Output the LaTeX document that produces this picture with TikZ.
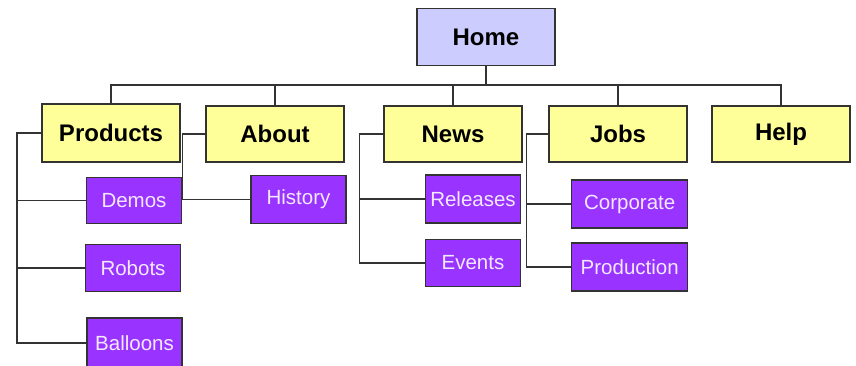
\documentclass[tikz,border=0pt]{standalone}
\usepackage{fontspec}
\setmainfont{Liberation Sans}
\usetikzlibrary{backgrounds}
\definecolor{homefill}{HTML}{CCCCFF}
\definecolor{topfill}{HTML}{FFFF99}
\definecolor{subfill}{HTML}{9933FF}
\definecolor{subtext}{HTML}{F4E8FF}
\definecolor{edge}{HTML}{333333}
\begin{document}
\begin{tikzpicture}[x=1pt,y=-1pt,
  box/.style={rectangle,draw=edge,line width=1.3pt,inner sep=0pt},
  topbox/.style={box,fill=topfill,minimum width=138pt,minimum height=56pt,
    font=\fontsize{24}{28}\selectfont\bfseries},
  homebox/.style={topbox,fill=homefill,minimum height=57pt},
  subbox/.style={box,fill=subfill,text=subtext,minimum width=95pt,minimum height=47pt,
    font=\fontsize{20.5}{24}\selectfont},
  widesub/.style={subbox,minimum width=116pt},
  link/.style={draw=edge,line width=1.3pt}]
\useasboundingbox (0,0) rectangle (856,365);
\path
  (486,37) node[homebox] (home) {Home}
  (111,133) node[topbox,minimum height=58pt] (products) {Products}
  (275,134) node[topbox] (about) {About}
  (453,134) node[topbox] (news) {News}
  (618,134) node[topbox] (jobs) {Jobs}
  (781,134) node[topbox] (help) {Help}
  (134,200.5) node[subbox,minimum height=46pt] (demos) {Demos}
  (133,268) node[subbox] (robots) {Robots}
  (134.5,343) node[subbox,minimum height=50pt] (balloons) {Balloons}
  (298.5,199.5) node[subbox,minimum height=48pt] (history) {History}
  (473,199) node[subbox,minimum height=48pt] (releases) {Releases}
  (473,263) node[subbox] (events) {Events}
  (629.7,204) node[widesub,minimum height=48pt] (corporate) {Corporate}
  (629.7,267) node[widesub,minimum height=48pt] (production) {Production};
\coordinate (bus) at (486,85);
\begin{pgfonlayer}{background}
\fill[white] (0,0) rectangle (856,365);
\draw[link] (home.south) -- (bus);
\draw[link] (bus) -| (products.north);
\draw[link] (bus) -| (about.north);
\draw[link] (bus) -| (news.north);
\draw[link] (bus) -| (jobs.north);
\draw[link] (bus) -| (help.north);
\draw[link] (about.west) -- (about.west -| demos.east) |- (history.west);
\draw[link] (products.west) -- ++(-24.3,0) |- (demos.west);
\draw[link] (products.west) -- ++(-24.3,0) |- (robots.west);
\draw[link] (products.west) -- ++(-24.3,0) |- (balloons.west);
\draw[link] (news.west) -- ++(-24.2,0) |- (releases.west);
\draw[link] (news.west) -- ++(-24.2,0) |- (events.west);
\draw[link] (jobs.west) -- ++(-22,0) |- (corporate.west);
\draw[link] (jobs.west) -- ++(-22,0) |- (production.west);
\end{pgfonlayer}
\end{tikzpicture}
\end{document}
